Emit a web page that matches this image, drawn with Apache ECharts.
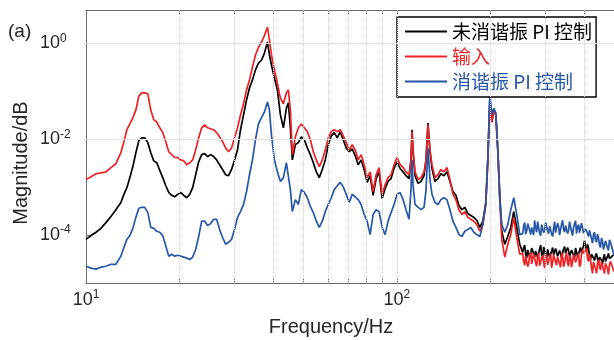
<!DOCTYPE html>
<html>
<head>
<meta charset="utf-8">
<script src="https://cdn.jsdelivr.net/npm/echarts@6/dist/echarts.min.js"></script>
<style>
  html, body { margin: 0; background: #fff; }
  #chart { width: 614px; height: 340px; }
</style>
</head>
<body>
<div id="chart"></div>
<script>
// frequency grid (Hz), shared by the three spectra
const freqHz = [
  10.00, 10.38, 10.77, 11.17, 11.59, 12.03, 12.48, 12.95, 13.24, 13.54,
  13.84, 14.15, 14.47, 14.79, 15.12, 15.46, 15.81, 16.16, 16.52, 16.90,
  17.27, 17.66, 18.06, 18.46, 18.87, 19.30, 19.73, 20.17, 20.63, 21.09,
  21.56, 22.04, 22.54, 23.04, 23.56, 24.09, 24.63, 25.18, 25.74, 26.32,
  26.91, 27.51, 28.13, 28.76, 29.40, 30.06, 30.73, 31.42, 32.13, 32.85,
  33.58, 34.33, 35.10, 35.89, 36.70, 37.52, 38.36, 38.93, 39.51, 40.39,
  41.30, 42.22, 43.17, 44.14, 44.79, 45.46, 46.13, 47.17, 48.23, 49.31,
  50.41, 51.54, 52.70, 53.88, 55.09, 56.32, 57.58, 58.88, 60.20, 61.55,
  62.93, 64.34, 65.78, 67.25, 68.76, 70.30, 71.87, 73.48, 75.13, 76.81,
  78.53, 80.29, 82.09, 83.93, 85.81, 87.73, 89.70, 91.71, 93.76, 95.86,
  98.01, 100.2, 102.5, 104.8, 107.1, 109.5, 111.1, 112.0, 112.8, 114.5,
  117.1, 119.7, 122.4, 124.2, 126.0, 127.9, 129.8, 132.7, 135.7, 138.7,
  141.8, 145.0, 148.3, 151.6, 155.0, 158.5, 162.0, 165.6, 169.3, 173.1,
  177.0, 181.0, 185.0, 189.2, 193.4, 196.3, 199.3, 202.2, 205.2, 208.3,
  211.4, 214.5, 217.7, 222.6, 227.6, 232.7, 237.9, 243.2, 248.7,
  254.2, 256.1, 258.0, 259.9, 261.8, 263.8, 265.7, 267.7, 269.7, 271.7,
  273.7, 275.7, 277.7, 279.8, 281.9, 284.0, 286.1, 288.2, 290.4, 292.5,
  294.7, 296.9, 299.1, 301.3, 303.5, 305.8, 308.0, 310.3, 312.6, 315.0,
  317.3, 319.6, 322.0, 324.4, 326.8, 329.2, 331.6, 334.1, 336.6, 339.1,
  341.6, 344.1, 346.7, 349.3, 351.8, 354.5, 357.1, 359.7, 362.4, 365.1,
  367.8, 370.5, 373.3, 376.0, 378.8, 381.6, 384.5, 387.3, 390.2, 393.1,
  396.0, 398.9, 401.9, 404.9, 407.9, 410.9, 414.0, 417.0, 420.1, 423.2,
  426.4, 429.5, 432.7, 435.9, 439.2, 442.4, 445.7, 449.0, 452.3, 455.7,
  459.1, 462.5, 465.9, 469.4, 472.9, 476.4, 479.9, 483.5, 487.1, 500
];

// magnitudes, stored as log10(magnitude)
const blackExp = [
  -4.09, -4.01, -3.94, -3.86, -3.74, -3.61, -3.47, -3.32, -3.15, -3.01,
  -2.80, -2.57, -2.28, -2.03, -1.97, -1.97, -2.07, -2.28, -2.45, -2.49,
  -2.65, -2.80, -2.97, -3.11, -3.17, -3.20, -3.15, -3.11, -3.17, -3.22,
  -3.15, -3.01, -2.74, -2.47, -2.32, -2.30, -2.36, -2.32, -2.36, -2.43,
  -2.53, -2.63, -2.74, -2.76, -2.63, -2.43, -2.22, -1.80, -1.49, -1.18,
  -0.93, -0.76, -0.55, -0.41, -0.35, -0.20, 0.03, -0.24, -0.45, -0.72,
  -0.97, -1.49, -1.76, -1.35, -1.24, -1.76, -2.43, -2.11, -2.07, -1.95,
  -2.01, -2.18, -2.32, -2.49, -2.68, -2.80, -2.63, -2.43, -2.11, -1.93,
  -1.86, -1.97, -1.84, -2.01, -2.18, -2.26, -2.20, -2.34, -2.53, -2.43,
  -2.63, -2.90, -2.76, -3.17, -2.82, -2.68, -3.24, -3.03, -2.88, -2.82,
  -2.61, -2.47, -2.61, -2.68, -2.76, -2.82, -2.43, -1.80, -2.26, -2.76,
  -2.92, -2.88, -2.76, -2.43, -1.66, -2.26, -2.61, -2.88, -2.82, -2.72,
  -2.76, -2.68, -2.88, -3.09, -3.17, -3.38, -3.47, -3.42, -3.55, -3.59,
  -3.63, -3.69, -3.84, -3.71, -3.32, -2.43, -1.18, -1.64, -1.39, -1.49,
  -2.22, -3.15, -3.92, -4.19, -4.03, -3.84, -3.51, -3.84, -4.19,
  -4.36, -4.26, -4.21, -4.40, -4.48, -4.31, -4.28, -4.45, -4.40, -4.27,
  -4.24, -4.39, -4.46, -4.33, -4.30, -4.47, -4.44, -4.29, -4.21, -4.41,
  -4.46, -4.25, -4.32, -4.43, -4.48, -4.30, -4.28, -4.46, -4.42, -4.33,
  -4.26, -4.41, -4.40, -4.28, -4.24, -4.44, -4.46, -4.32, -4.30, -4.47,
  -4.44, -4.29, -4.24, -4.38, -4.42, -4.26, -4.32, -4.45, -4.46, -4.31,
  -4.28, -4.42, -4.48, -4.27, -4.26, -4.44, -4.42, -4.33, -4.26, -4.37,
  -4.34, -4.22, -4.11, -4.25, -4.34, -4.19, -4.28, -4.44, -4.51, -4.40,
  -4.36, -4.48, -4.53, -4.43, -4.38, -4.50, -4.57, -4.46, -4.42, -4.52,
  -4.61, -4.47, -4.40, -4.55, -4.55, -4.45, -4.38, -4.49, -4.53, -4.40
];

const redExp = [
  -2.84, -2.78, -2.72, -2.70, -2.68, -2.59, -2.51, -2.28, -2.05, -1.80,
  -1.68, -1.55, -1.39, -1.10, -1.03, -1.03, -1.05, -1.39, -1.59, -1.64,
  -1.76, -1.86, -2.05, -2.26, -2.32, -2.38, -2.38, -2.43, -2.45, -2.53,
  -2.49, -2.43, -2.22, -1.97, -1.76, -1.70, -1.76, -1.78, -1.80, -1.86,
  -1.95, -2.05, -2.18, -2.26, -2.18, -1.97, -1.76, -1.49, -1.26, -0.97,
  -0.76, -0.49, -0.24, -0.08, 0.03, 0.17, 0.34, 0.07, -0.24, -0.55,
  -0.83, -1.14, -1.26, -1.03, -0.97, -1.39, -2.32, -1.95, -1.76, -1.68,
  -1.76, -1.84, -2.01, -2.26, -2.43, -2.57, -2.43, -2.22, -1.97, -1.84,
  -1.80, -1.84, -1.80, -1.93, -2.07, -2.22, -2.11, -2.22, -2.43, -2.32,
  -2.53, -2.80, -2.68, -3.09, -2.74, -2.59, -3.15, -2.95, -2.80, -2.74,
  -2.53, -2.38, -2.53, -2.59, -2.68, -2.74, -2.43, -1.84, -2.22, -2.68,
  -2.84, -2.80, -2.68, -2.43, -1.70, -2.22, -2.53, -2.80, -2.74, -2.63,
  -2.68, -2.59, -2.84, -3.15, -3.26, -3.47, -3.57, -3.51, -3.63, -3.67,
  -3.71, -3.78, -3.92, -3.78, -3.36, -2.43, -1.18, -1.64, -1.39, -1.49,
  -2.22, -3.26, -4.09, -4.46, -4.19, -3.99, -3.63, -4.05, -4.40,
  -4.38, -4.55, -4.63, -4.44, -4.40, -4.66, -4.59, -4.42, -4.36, -4.60,
  -4.63, -4.39, -4.48, -4.58, -4.65, -4.43, -4.38, -4.64, -4.61, -4.47,
  -4.42, -4.58, -4.69, -4.40, -4.46, -4.62, -4.65, -4.45, -4.40, -4.68,
  -4.57, -4.41, -4.38, -4.56, -4.63, -4.45, -4.44, -4.60, -4.67, -4.37,
  -4.42, -4.66, -4.59, -4.46, -4.36, -4.58, -4.65, -4.42, -4.48, -4.67,
  -4.63, -4.41, -4.40, -4.57, -4.61, -4.44, -4.38, -4.66, -4.61, -4.40,
  -4.30, -4.38, -4.42, -4.33, -4.26, -4.49, -4.55, -4.40, -4.51, -4.68,
  -4.80, -4.56, -4.59, -4.70, -4.80, -4.60, -4.51, -4.66, -4.73, -4.55,
  -4.57, -4.72, -4.80, -4.59, -4.61, -4.70, -4.82, -4.62, -4.55, -4.76
];

const blueExp = [
  -4.65, -4.69, -4.71, -4.67, -4.65, -4.61, -4.61, -4.44, -4.26, -4.09,
  -4.01, -3.86, -3.63, -3.44, -3.42, -3.42, -3.53, -3.84, -3.86, -3.92,
  -3.94, -4.01, -4.23, -4.44, -4.40, -4.44, -4.42, -4.44, -4.46, -4.48,
  -4.51, -4.46, -4.30, -4.03, -3.71, -3.71, -3.80, -3.76, -3.67, -3.67,
  -3.88, -4.05, -4.19, -4.15, -4.09, -3.88, -3.63, -3.51, -3.36, -3.09,
  -2.74, -2.43, -2.01, -1.68, -1.55, -1.43, -1.22, -1.39, -1.91, -2.43,
  -2.68, -2.88, -2.80, -2.49, -2.47, -3.05, -3.51, -3.26, -3.36, -3.05,
  -3.11, -3.22, -3.40, -3.53, -3.71, -3.84, -3.71, -3.51, -3.36, -3.22,
  -3.05, -2.97, -2.90, -2.99, -3.15, -3.32, -3.15, -3.20, -3.26, -3.36,
  -3.57, -3.71, -3.99, -3.57, -3.47, -3.51, -3.84, -3.99, -3.71, -3.53,
  -3.36, -3.15, -3.11, -3.26, -3.47, -3.67, -3.05, -2.43, -2.95, -3.36,
  -3.42, -3.47, -3.42, -3.05, -2.18, -2.84, -3.15, -3.32, -3.36, -3.26,
  -3.22, -3.26, -3.47, -3.71, -3.84, -3.99, -4.03, -3.92, -3.88, -3.84,
  -3.94, -3.99, -4.03, -3.78, -3.36, -2.43, -1.03, -1.49, -1.35, -1.45,
  -2.22, -3.26, -3.78, -3.94, -3.78, -3.47, -3.22, -3.57, -3.99,
  -3.97, -3.80, -3.74, -3.98, -3.92, -3.76, -3.72, -3.90, -3.99, -3.84,
  -3.82, -4.00, -3.69, -3.85, -3.94, -3.72, -3.76, -3.96, -4.01, -3.78,
  -3.80, -3.95, -3.90, -3.73, -3.74, -3.92, -3.97, -3.81, -3.78, -3.98,
  -4.03, -3.86, -3.72, -3.95, -3.92, -3.75, -3.82, -4.00, -3.99, -3.77,
  -3.69, -3.88, -3.94, -3.80, -3.76, -3.97, -3.90, -3.72, -3.74, -3.93,
  -4.01, -3.84, -3.80, -3.70, -3.97, -3.83, -3.78, -3.95, -3.92, -3.75,
  -3.72, -3.96, -3.99, -3.87, -3.86, -3.96, -4.03, -3.90, -3.88, -4.08,
  -4.17, -3.99, -3.94, -4.10, -4.15, -3.98, -4.05, -4.20, -4.26, -4.06,
  -4.13, -4.30, -4.34, -4.12, -4.15, -4.27, -4.32, -4.10, -4.15, -4.42
];

const seriesNames = ["未消谐振 PI 控制", "输入", "消谐振 PI 控制"];
const seriesColors = ["#000000", "#ee2224", "#2757a8"];
const yTickValues = [1e-4, 1e-2, 1];
const xTickValues = [10, 100];
const xMinorValues = [20, 30, 40, 50, 60, 70, 80, 90, 100, 200, 300, 400];

const textColor = "#262626";
const axisColor = "#6b6b6b";

const toPairs = (exps) => freqHz.map((f, i) => [f, Math.pow(10, exps[i])]);

const powLabel = (v) => "{b|10}{s|" + Math.round(Math.log10(v)) + "}";
const labelRich = {
  b: { fontSize: 18, color: textColor, fontFamily: "Liberation Sans" },
  s: { fontSize: 12, color: textColor, fontFamily: "Liberation Sans", padding: [0, 0, 10, 0] }
};

const myChart = echarts.init(document.getElementById("chart"));

const lineSeries = [blackExp, redExp, blueExp].map((exps, i) => ({
  name: seriesNames[i],
  type: "line",
  data: toPairs(exps),
  showSymbol: false,
  symbol: "none",
  z: 3,
  lineStyle: { color: seriesColors[i], width: 1.7 },
  itemStyle: { color: seriesColors[i] }
}));

// grid lines, MATLAB style (dotted verticals, solid horizontals)
const gridSeries = {
  name: "grid",
  type: "line",
  data: [[10, 1e-5]],
  symbol: "none",
  silent: true,
  z: 1,
  markLine: {
    silent: true,
    symbol: "none",
    animation: false,
    label: { show: false },
    data: [
      ...xMinorValues.map((v) => ({ xAxis: v, lineStyle: { color: "#d2d2d2", type: "dotted", width: 1 } })),
      ...yTickValues.map((v) => ({ yAxis: v, lineStyle: { color: "#e2e2e2", type: "solid", width: 1 } }))
    ]
  }
};

const option = {
  animation: false,
  backgroundColor: "#fff",
  grid: { left: 86, right: -2, top: 10, bottom: 57 },
  legend: {
    data: seriesNames.map((n, i) => ({ name: n, textStyle: { color: seriesColors[i] } })),
    orient: "vertical",
    left: 397,
    top: 17,
    padding: [5, 4, 6, 8],
    itemGap: 6,
    itemWidth: 42,
    itemHeight: 2,
    icon: "rect",
    backgroundColor: "#fff",
    borderColor: "#000",
    borderWidth: 1.4,
    borderRadius: 0,
    textStyle: { fontSize: 19, fontFamily: "Noto Sans CJK SC" }
  },
  xAxis: [
    {
      type: "log",
      logBase: 10,
      min: 10,
      max: 500,
      axisLine: { show: true, lineStyle: { color: axisColor } },
      axisTick: { show: true, inside: true, length: 4, lineStyle: { color: axisColor }, customValues: xTickValues.concat(xMinorValues) },
      axisLabel: { customValues: xTickValues, margin: 6, formatter: powLabel, rich: labelRich },
      splitLine: { show: false }
    },
    {
      type: "log",
      logBase: 10,
      min: 10,
      max: 500,
      position: "top",
      axisLine: { show: true, lineStyle: { color: axisColor } },
      axisTick: { show: true, inside: true, length: 4, lineStyle: { color: axisColor }, customValues: xTickValues.concat(xMinorValues) },
      axisLabel: { show: false },
      splitLine: { show: false }
    }
  ],
  yAxis: {
    type: "log",
    logBase: 10,
    min: 1e-5,
    max: 5,
    axisLine: { show: true, lineStyle: { color: axisColor } },
    axisTick: { show: true, inside: true, length: 5, lineStyle: { color: axisColor }, customValues: yTickValues },
    axisLabel: { customValues: yTickValues, align: "left", margin: 46, formatter: powLabel, rich: labelRich },
    splitLine: { show: false }
  },
  graphic: [
    {
      type: "text",
      left: 8,
      top: 22,
      style: { text: "(a)", fontSize: 19, fill: textColor, fontFamily: "Liberation Sans" }
    },
    {
      type: "text",
      x: 331,
      y: 327,
      style: { text: "Frequency/Hz", fontSize: 20, fill: textColor, fontFamily: "Liberation Sans", textAlign: "center", textVerticalAlign: "middle" }
    },
    {
      type: "text",
      x: 21,
      y: 163,
      rotation: Math.PI / 2,
      style: { text: "Magnitude/dB", fontSize: 20, fill: textColor, fontFamily: "Liberation Sans", textAlign: "center", textVerticalAlign: "middle" }
    }
  ],
  series: [gridSeries, ...lineSeries]
};

myChart.setOption(option);
</script>
</body>
</html>
